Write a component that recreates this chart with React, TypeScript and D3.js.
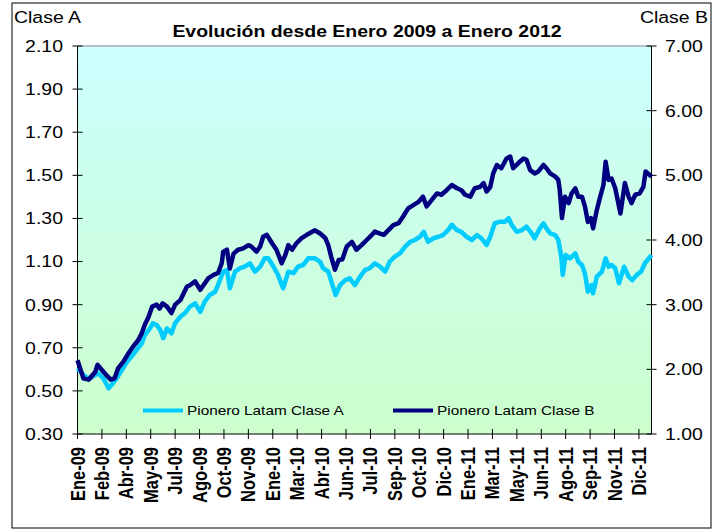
import * as d3 from 'd3'

const monthLabels = ['Ene-09', 'Feb-09', 'Abr-09', 'May-09', 'Jul-09', 'Ago-09', 'Oct-09', 'Nov-09', 'Ene-10', 'Mar-10', 'Abr-10', 'Jun-10', 'Jul-10', 'Sep-10', 'Oct-10', 'Dic-10', 'Ene-11', 'Mar-11', 'May-11', 'Jun-11', 'Ago-11', 'Sep-11', 'Nov-11', 'Dic-11']
const claseATicks = [2.1, 1.9, 1.7, 1.5, 1.3, 1.1, 0.9, 0.7, 0.5, 0.3]
const claseBTicks = [7, 6, 5, 4, 3, 2, 1]
const seriesNames = ['Pionero Latam Clase A', 'Pionero Latam Clase B']

// trading day index (0 = start of Jan-09), one label every 33 days
const TOTAL_DAYS = 776
const TICK_EVERY = 33

const claseA: [number, number][] = [
  [0, 0.606], [10, 0.566], [17, 0.558], [24, 0.574], [28, 0.581], [35, 0.558], [42, 0.512], [46, 0.527], [53, 0.558], [60, 0.597],
  [67, 0.635], [73, 0.659], [80, 0.69], [87, 0.721], [91, 0.759], [98, 0.79], [102, 0.814], [107, 0.806], [112, 0.782], [116, 0.744],
  [121, 0.79], [127, 0.767], [132, 0.814], [139, 0.844], [145, 0.86], [152, 0.891], [159, 0.906], [166, 0.867], [172, 0.914], [179, 0.945],
  [186, 0.96], [190, 0.991], [197, 1.053], [202, 1.061], [206, 0.976], [213, 1.053], [220, 1.069], [226, 1.076], [233, 1.092], [240, 1.053],
  [247, 1.076], [253, 1.115], [258, 1.115], [265, 1.076], [271, 1.038], [278, 0.976], [285, 1.053], [292, 1.046], [298, 1.076], [305, 1.084],
  [312, 1.115], [321, 1.115], [328, 1.099], [332, 1.069], [339, 1.053], [344, 0.999], [349, 0.945], [355, 0.991], [362, 1.014], [368, 1.022],
  [375, 0.991], [382, 1.03], [389, 1.061], [395, 1.069], [402, 1.092], [409, 1.076], [416, 1.053], [422, 1.099], [429, 1.123], [436, 1.138],
  [443, 1.169], [450, 1.192], [456, 1.2], [463, 1.215], [468, 1.238], [474, 1.192], [481, 1.208], [488, 1.215], [494, 1.223], [501, 1.246],
  [506, 1.27], [513, 1.246], [519, 1.238], [526, 1.215], [533, 1.2], [540, 1.223], [546, 1.208], [553, 1.177], [558, 1.215], [564, 1.277],
  [571, 1.285], [578, 1.285], [583, 1.301], [587, 1.27], [594, 1.238], [601, 1.246], [607, 1.262], [614, 1.231], [618, 1.208], [625, 1.254],
  [630, 1.277], [634, 1.254], [639, 1.231], [646, 1.223], [650, 1.2], [654, 1.123], [656, 1.038], [660, 1.13], [666, 1.115], [673, 1.138],
  [677, 1.099], [682, 1.084], [686, 1.045], [690, 0.96], [695, 0.991], [697, 0.953], [702, 1.03], [709, 1.053], [714, 1.115], [718, 1.076],
  [722, 1.084], [727, 1.069], [732, 0.999], [739, 1.076], [745, 1.03], [750, 1.014], [756, 1.038], [762, 1.053], [767, 1.092], [776, 1.13],
]

const claseB: [number, number][] = [
  [0, 2.14], [8, 1.86], [15, 1.84], [24, 1.96], [27, 2.07], [33, 1.99], [39, 1.91], [45, 1.84], [50, 1.86], [55, 2.02],
  [62, 2.12], [69, 2.25], [75, 2.35], [82, 2.45], [87, 2.56], [91, 2.69], [96, 2.81], [101, 2.97], [107, 3.0], [111, 2.94],
  [115, 3.02], [121, 2.97], [127, 2.87], [132, 3.0], [139, 3.07], [148, 3.28], [152, 3.3], [159, 3.36], [166, 3.23], [177, 3.41],
  [184, 3.46], [190, 3.49], [195, 3.64], [197, 3.82], [202, 3.85], [206, 3.56], [211, 3.79], [217, 3.85], [224, 3.87], [231, 3.92],
  [235, 3.9], [242, 3.82], [247, 3.9], [251, 4.05], [256, 4.08], [263, 3.95], [269, 3.85], [276, 3.64], [281, 3.77], [285, 3.92],
  [290, 3.85], [296, 3.95], [303, 4.03], [310, 4.08], [321, 4.15], [328, 4.1], [335, 4.03], [339, 3.92], [343, 3.74], [348, 3.54],
  [353, 3.69], [358, 3.7], [364, 3.9], [371, 3.97], [377, 3.85], [384, 3.92], [391, 4.0], [398, 4.08], [402, 4.13], [409, 4.1],
  [414, 4.08], [420, 4.15], [427, 4.23], [434, 4.26], [440, 4.36], [447, 4.49], [454, 4.54], [461, 4.59], [467, 4.67], [472, 4.52],
  [479, 4.62], [486, 4.72], [492, 4.7], [499, 4.77], [506, 4.85], [513, 4.8], [519, 4.77], [524, 4.7], [531, 4.67], [537, 4.8],
  [544, 4.82], [549, 4.88], [553, 4.75], [558, 4.82], [562, 5.03], [567, 5.16], [573, 5.11], [580, 5.26], [585, 5.29], [589, 5.11],
  [596, 5.19], [603, 5.26], [607, 5.24], [612, 5.08], [618, 5.03], [623, 5.06], [630, 5.16], [634, 5.11], [639, 5.03], [646, 4.98],
  [650, 4.93], [652, 4.77], [655, 4.34], [659, 4.67], [664, 4.57], [668, 4.72], [673, 4.8], [677, 4.67], [682, 4.67], [686, 4.52],
  [690, 4.28], [694, 4.34], [697, 4.18], [702, 4.46], [706, 4.64], [711, 4.85], [714, 5.21], [718, 4.93], [722, 4.95], [727, 4.8],
  [734, 4.41], [740, 4.88], [745, 4.67], [749, 4.57], [754, 4.7], [760, 4.72], [765, 4.82], [768, 5.06], [776, 4.98],
]

const FONT = "'Liberation Sans', Arial, sans-serif"
const STRETCH = 1.18 // the original picture is a bit wider than tall

export default function App() {
  const width = 722
  const height = 531
  const plot = { left: 77.5, right: 651.5, top: 46, bottom: 434 }

  const x = d3.scaleLinear().domain([0, TOTAL_DAYS]).range([plot.left, plot.right])
  const yA = d3.scaleLinear().domain([0.3, 2.1]).range([plot.bottom, plot.top])
  const yB = d3.scaleLinear().domain([1, 7]).range([plot.bottom, plot.top])

  const lineA = d3.line<[number, number]>().x(d => x(d[0])).y(d => yA(d[1]))
  const lineB = d3.line<[number, number]>().x(d => x(d[0])).y(d => yB(d[1]))

  const xTicks = monthLabels.map((label, i) => ({ label, day: i * TICK_EVERY }))

  return (
    <svg width={width} height={height} style={{ position: 'absolute', left: 0, top: 0, background: '#fff' }} fontFamily={FONT}>
      <defs>
        <linearGradient id="plotBg" x1="0" y1="0" x2="0" y2="1">
          <stop offset="0" stopColor="#ccffff" />
          <stop offset="1" stopColor="#ccffcc" />
        </linearGradient>
      </defs>

      {/* outer frame */}
      <rect x={12} y={3} width={699} height={525} fill="#fff" stroke="#000" strokeWidth={1} />

      {/* plot area */}
      <rect x={plot.left} y={plot.top} width={plot.right - plot.left} height={plot.bottom - plot.top} fill="url(#plotBg)" />
      <line x1={plot.left} x2={plot.right} y1={plot.top} y2={plot.top} stroke="#808080" />

      {/* title + axis captions */}
      <g transform={`translate(367,37) scale(${STRETCH},1)`}>
        <text textAnchor="middle" fontSize={16.5} fontWeight="bold" fill="#000">Evolución desde Enero 2009 a Enero 2012</text>
      </g>
      <g transform={`translate(14,23) scale(${STRETCH},1)`}>
        <text fontSize={16.5} fill="#000">Clase A</text>
      </g>
      <g transform={`translate(708,23) scale(${STRETCH},1)`}>
        <text fontSize={16.5} textAnchor="end" fill="#000">Clase B</text>
      </g>

      {/* left axis */}
      <line x1={plot.left} x2={plot.left} y1={plot.top} y2={plot.bottom} stroke="#000" />
      {claseATicks.map(t => (
        <g key={'a' + t}>
          <line x1={plot.left - 5} x2={plot.left + 5} y1={yA(t)} y2={yA(t)} stroke="#000" />
          <g transform={`translate(63,${yA(t)}) scale(${STRETCH},1)`}>
            <text textAnchor="end" dy="0.36em" fontSize={16.5} fill="#000">{t.toFixed(2)}</text>
          </g>
        </g>
      ))}

      {/* right axis */}
      <line x1={plot.right} x2={plot.right} y1={plot.top} y2={plot.bottom} stroke="#000" />
      {claseBTicks.map(t => (
        <g key={'b' + t}>
          <line x1={plot.right - 5} x2={plot.right + 5} y1={yB(t)} y2={yB(t)} stroke="#000" />
          <g transform={`translate(665,${yB(t)}) scale(${STRETCH},1)`}>
            <text dy="0.36em" fontSize={16.5} fill="#000">{t.toFixed(2)}</text>
          </g>
        </g>
      ))}

      {/* bottom axis */}
      <line x1={plot.left} x2={plot.right} y1={plot.bottom} y2={plot.bottom} stroke="#000" />
      {xTicks.map(t => (
        <g key={t.label}>
          <line x1={x(t.day)} x2={x(t.day)} y1={plot.bottom - 5} y2={plot.bottom + 5} stroke="#000" />
          <g transform={`translate(${x(t.day)},447) scale(${STRETCH},1) rotate(-90)`}>
            <text textAnchor="end" dy="0.36em" fontSize={16.5} fontWeight="bold" fill="#000">{t.label}</text>
          </g>
        </g>
      ))}

      {/* series */}
      <path d={lineA(claseA) ?? ''} fill="none" stroke="#00ccff" strokeWidth={4.5} strokeLinejoin="round" />
      <path d={lineB(claseB) ?? ''} fill="none" stroke="#000080" strokeWidth={4.5} strokeLinejoin="round" />

      {/* legend */}
      <line x1={143} x2={183} y1={410.5} y2={410.5} stroke="#00ccff" strokeWidth={4} />
      <g transform={`translate(187,410.5) scale(${STRETCH},1)`}>
        <text dy="0.36em" fontSize={13} fill="#000">{seriesNames[0]}</text>
      </g>
      <line x1={393} x2={433} y1={410.5} y2={410.5} stroke="#000080" strokeWidth={4} />
      <g transform={`translate(437,410.5) scale(${STRETCH},1)`}>
        <text dy="0.36em" fontSize={13} fill="#000">{seriesNames[1]}</text>
      </g>
    </svg>
  )
}
